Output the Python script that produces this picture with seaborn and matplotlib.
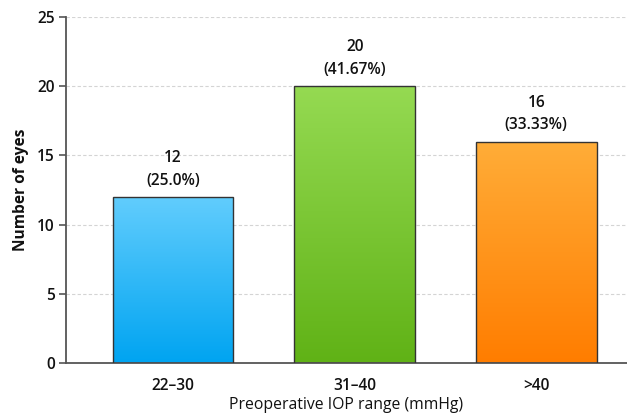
import numpy as np
import pandas as pd
import matplotlib
matplotlib.use("Agg")
import matplotlib.pyplot as plt
import seaborn as sns

# Data
categories = ["22\u201330", "31\u201340", ">40"]
eyes = [12, 20, 16]
percent_labels = ["(25.0%)", "(41.67%)", "(33.33%)"]
top_colors = ["#62cdfd", "#95da52", "#ffad38"]
bottom_colors = ["#00a4f1", "#60b216", "#ff7d00"]

df = pd.DataFrame({"range": categories, "eyes": eyes})

sns.set_theme(style="white")
plt.rcParams["font.family"] = ["Open Sans", "DejaVu Sans"]

fig = plt.figure(figsize=(6.27, 4.16), dpi=100)
ax = fig.add_axes([0.1053, 0.1274, 0.8947, 0.8317])

sns.barplot(data=df, x="range", y="eyes", ax=ax, width=0.665,
            color="white", edgecolor="#333333", linewidth=1.0, zorder=3)

# Vertical gradient fill inside each bar
for patch, c_top, c_bot in zip(ax.patches, top_colors, bottom_colors):
    x0, y0 = patch.get_x(), patch.get_y()
    w, h = patch.get_width(), patch.get_height()
    top = np.array(matplotlib.colors.to_rgb(c_top))
    bot = np.array(matplotlib.colors.to_rgb(c_bot))
    t = np.linspace(0, 1, 256)[:, None]
    grad = (top * (1 - t) + bot * t)[:, None, :]
    im = ax.imshow(grad, extent=[x0, x0 + w, y0, y0 + h], origin="upper",
                   aspect="auto", zorder=2.5, interpolation="bicubic")
    im.set_clip_path(patch)
    patch.set_facecolor("none")

# Value labels above bars
for i, (v, p) in enumerate(zip(eyes, percent_labels)):
    ax.annotate(f"{v}\n{p}", xy=(i, v), xytext=(0, 6), textcoords="offset points",
                ha="center", va="bottom", fontsize=11.2, color="#111111",
                fontweight="semibold", linespacing=1.55, zorder=4)

ax.set_xlim(-0.59, 2.5)
ax.set_ylim(0, 25)
ax.set_yticks([0, 5, 10, 15, 20, 25])
ax.yaxis.grid(True, linestyle=(0, (3, 2)), color="#d4d4d4", linewidth=0.8, zorder=0)
ax.set_axisbelow(True)

for side in ["top", "right"]:
    ax.spines[side].set_visible(False)
for side in ["left", "bottom"]:
    ax.spines[side].set_color("#555555")
    ax.spines[side].set_linewidth(1.3)

ax.tick_params(axis="y", which="major", left=True, length=5, width=1.2,
               color="#555555", labelsize=11.2, labelcolor="#111111", pad=3)
ax.tick_params(axis="x", bottom=False, labelsize=11.2, labelcolor="#111111", pad=5)
for lbl in ax.get_xticklabels() + ax.get_yticklabels():
    lbl.set_fontweight("semibold")

ax.set_xlabel("Preoperative IOP range (mmHg)", fontsize=11.3, color="#111111", labelpad=2)
ax.set_ylabel("Number of eyes", fontsize=11.2, color="#111111", fontweight="bold", labelpad=6)

fig.savefig("out.png", dpi=100)
